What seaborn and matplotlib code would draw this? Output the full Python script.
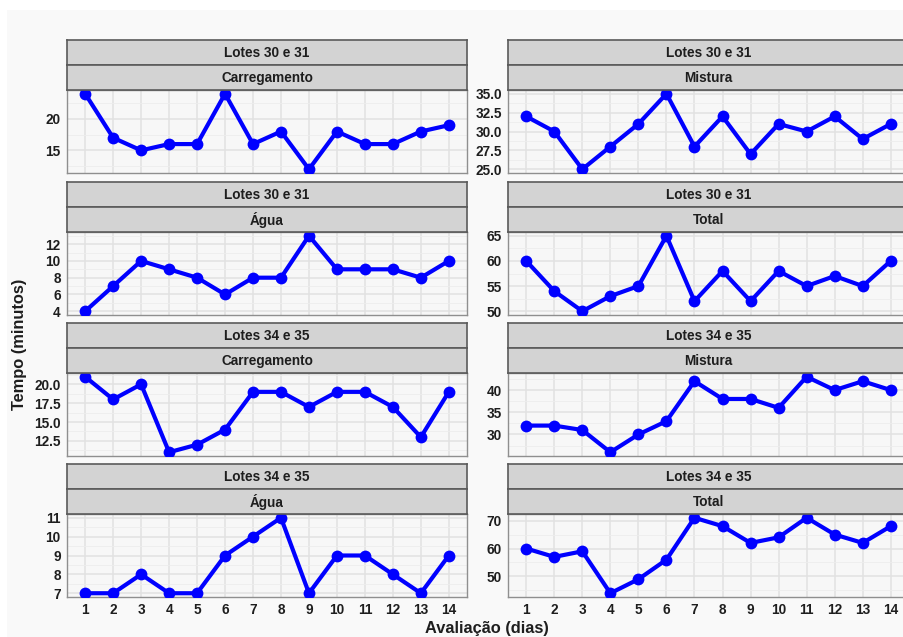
import numpy as np
import pandas as pd
import matplotlib
matplotlib.use("Agg")
import matplotlib.pyplot as plt
from matplotlib.patches import Rectangle
from matplotlib.ticker import MultipleLocator, FormatStrFormatter, FixedLocator
import seaborn as sns

# ---- data -------------------------------------------------------------
dias = list(range(1, 15))
lotes = ["Lotes 30 e 31", "Lotes 34 e 35"]
etapas = ["Carregamento", "Mistura", "Água", "Total"]

carregamento_30_31 = [24, 17, 15, 16, 16, 24, 16, 18, 12, 18, 16, 16, 18, 19]
mistura_30_31 = [32, 30, 25, 28, 31, 35, 28, 32, 27, 31, 30, 32, 29, 31]
agua_30_31 = [4, 7, 10, 9, 8, 6, 8, 8, 13, 9, 9, 9, 8, 10]
total_30_31 = [60, 54, 50, 53, 55, 65, 52, 58, 52, 58, 55, 57, 55, 60]

carregamento_34_35 = [21, 18, 20, 11, 12, 14, 19, 19, 17, 19, 19, 17, 13, 19]
mistura_34_35 = [32, 32, 31, 26, 30, 33, 42, 38, 38, 36, 43, 40, 42, 40]
agua_34_35 = [7, 7, 8, 7, 7, 9, 10, 11, 7, 9, 9, 8, 7, 9]
total_34_35 = [60, 57, 59, 44, 49, 56, 71, 68, 62, 64, 71, 65, 62, 68]

series = {
    (lotes[0], "Carregamento"): carregamento_30_31,
    (lotes[0], "Mistura"): mistura_30_31,
    (lotes[0], "Água"): agua_30_31,
    (lotes[0], "Total"): total_30_31,
    (lotes[1], "Carregamento"): carregamento_34_35,
    (lotes[1], "Mistura"): mistura_34_35,
    (lotes[1], "Água"): agua_34_35,
    (lotes[1], "Total"): total_34_35,
}

rows = []
for (lote, etapa), valores in series.items():
    for d, v in zip(dias, valores):
        rows.append({"lote": lote, "etapa": etapa, "dia": d, "tempo": v})
df = pd.DataFrame(rows)

# ---- styling ----------------------------------------------------------
sns.set_style("white")
plt.rcParams["font.family"] = ["Liberation Sans", "DejaVu Sans"]

W, H = 904, 637
fig = plt.figure(figsize=(W / 100, H / 100), dpi=100, facecolor="white")
fig.patches.append(Rectangle((7 / W, 0), 1, 1 - 10 / H, transform=fig.transFigure,
                             facecolor="#f9f9f9", edgecolor="none", zorder=-10))


def box(x0, y0, x1, y1):
    return [x0 / W, 1 - y1 / H, (x1 - x0) / W, (y1 - y0) / H]


col_x = [(67, 467), (508, 909)]
row_y = [(40, 65, 90, 173), (182, 207, 232, 315),
         (323, 348, 373, 456), (464, 489, 514, 597)]

layout = [
    [(lotes[0], "Carregamento"), (lotes[0], "Mistura")],
    [(lotes[0], "Água"), (lotes[0], "Total")],
    [(lotes[1], "Carregamento"), (lotes[1], "Mistura")],
    [(lotes[1], "Água"), (lotes[1], "Total")],
]

tick_step = {
    (lotes[0], "Carregamento"): (5, "%d"),
    (lotes[0], "Mistura"): (2.5, "%.1f"),
    (lotes[0], "Água"): (2, "%d"),
    (lotes[0], "Total"): (5, "%d"),
    (lotes[1], "Carregamento"): (2.5, "%.1f"),
    (lotes[1], "Mistura"): (5, "%d"),
    (lotes[1], "Água"): (1, "%d"),
    (lotes[1], "Total"): (10, "%d"),
}

TXT = "#1e1e1e"
STRIP_FILL = "#d3d3d3"
STRIP_EDGE = "#5a5a5a"
PANEL_BG = "#f7f7f7"
GRID_MAJOR = "#e2e2e2"
GRID_MINOR = "#ededed"

for r, row in enumerate(layout):
    s_top, s_mid, p_top, p_bot = row_y[r]
    for c, key in enumerate(row):
        x0, x1 = col_x[c]
        lote, etapa = key

        # panel
        ax = fig.add_axes(box(x0, p_top, x1, p_bot))
        ax.set_facecolor(PANEL_BG)
        sub = df[(df["lote"] == lote) & (df["etapa"] == etapa)]
        sns.lineplot(data=sub, x="dia", y="tempo", ax=ax, color="#0000ff",
                     linewidth=3.0, marker="o", markersize=8.5,
                     markeredgewidth=0, zorder=5)

        ymin, ymax = sub["tempo"].min(), sub["tempo"].max()
        pad = (ymax - ymin) * 0.05
        ax.set_ylim(ymin - pad, ymax + pad)
        ax.set_xlim(1 - 0.65, 14 + 0.65)

        step, fmt = tick_step[key]
        ax.yaxis.set_major_locator(MultipleLocator(step))
        ax.yaxis.set_minor_locator(MultipleLocator(step / 2))
        ax.yaxis.set_major_formatter(FormatStrFormatter(fmt))
        ax.xaxis.set_major_locator(FixedLocator(dias))

        ax.grid(True, which="major", color=GRID_MAJOR, linewidth=1.1, zorder=0)
        ax.grid(True, which="minor", axis="y", color=GRID_MINOR, linewidth=0.6, zorder=0)
        ax.set_axisbelow(True)

        for sp in ax.spines.values():
            sp.set_color("#8f8f8f")
            sp.set_linewidth(1.0)

        ax.tick_params(axis="y", which="major", length=2.5, width=0.8,
                       color="#555555", labelsize=9.8, labelcolor=TXT, pad=2)
        ax.tick_params(axis="y", which="minor", length=0)
        for lab in ax.get_yticklabels():
            lab.set_fontweight("bold")

        if r == len(layout) - 1:
            ax.tick_params(axis="x", length=2.5, width=0.8, color="#555555",
                           labelsize=9.8, labelcolor=TXT, pad=2)
            ax.set_xticklabels([str(d) for d in dias], fontweight="bold")
        else:
            ax.tick_params(axis="x", length=0, labelbottom=False)

        ax.set_xlabel("")
        ax.set_ylabel("")

        # facet strips above the panel
        for (ya, yb, label) in [(s_top, s_mid, lote), (s_mid, p_top, etapa)]:
            sax = fig.add_axes(box(x0, ya, x1, yb))
            sax.set_facecolor(STRIP_FILL)
            sax.set_xticks([])
            sax.set_yticks([])
            for sp in sax.spines.values():
                sp.set_color(STRIP_EDGE)
                sp.set_linewidth(1.2)
            sax.text(0.5, 0.48, label, ha="center", va="center",
                     fontsize=9.8, fontweight="bold", color=TXT,
                     transform=sax.transAxes)

fig.text(487 / W, 1 - 629 / H, "Avaliação (dias)", ha="center", va="center",
         fontsize=11.8, fontweight="bold", color=TXT)
fig.text(20 / W, 1 - 344 / H, "Tempo (minutos)", ha="center", va="center",
         rotation=90, fontsize=11.8, fontweight="bold", color=TXT)

fig.savefig("out.png", dpi=100, facecolor="white")
